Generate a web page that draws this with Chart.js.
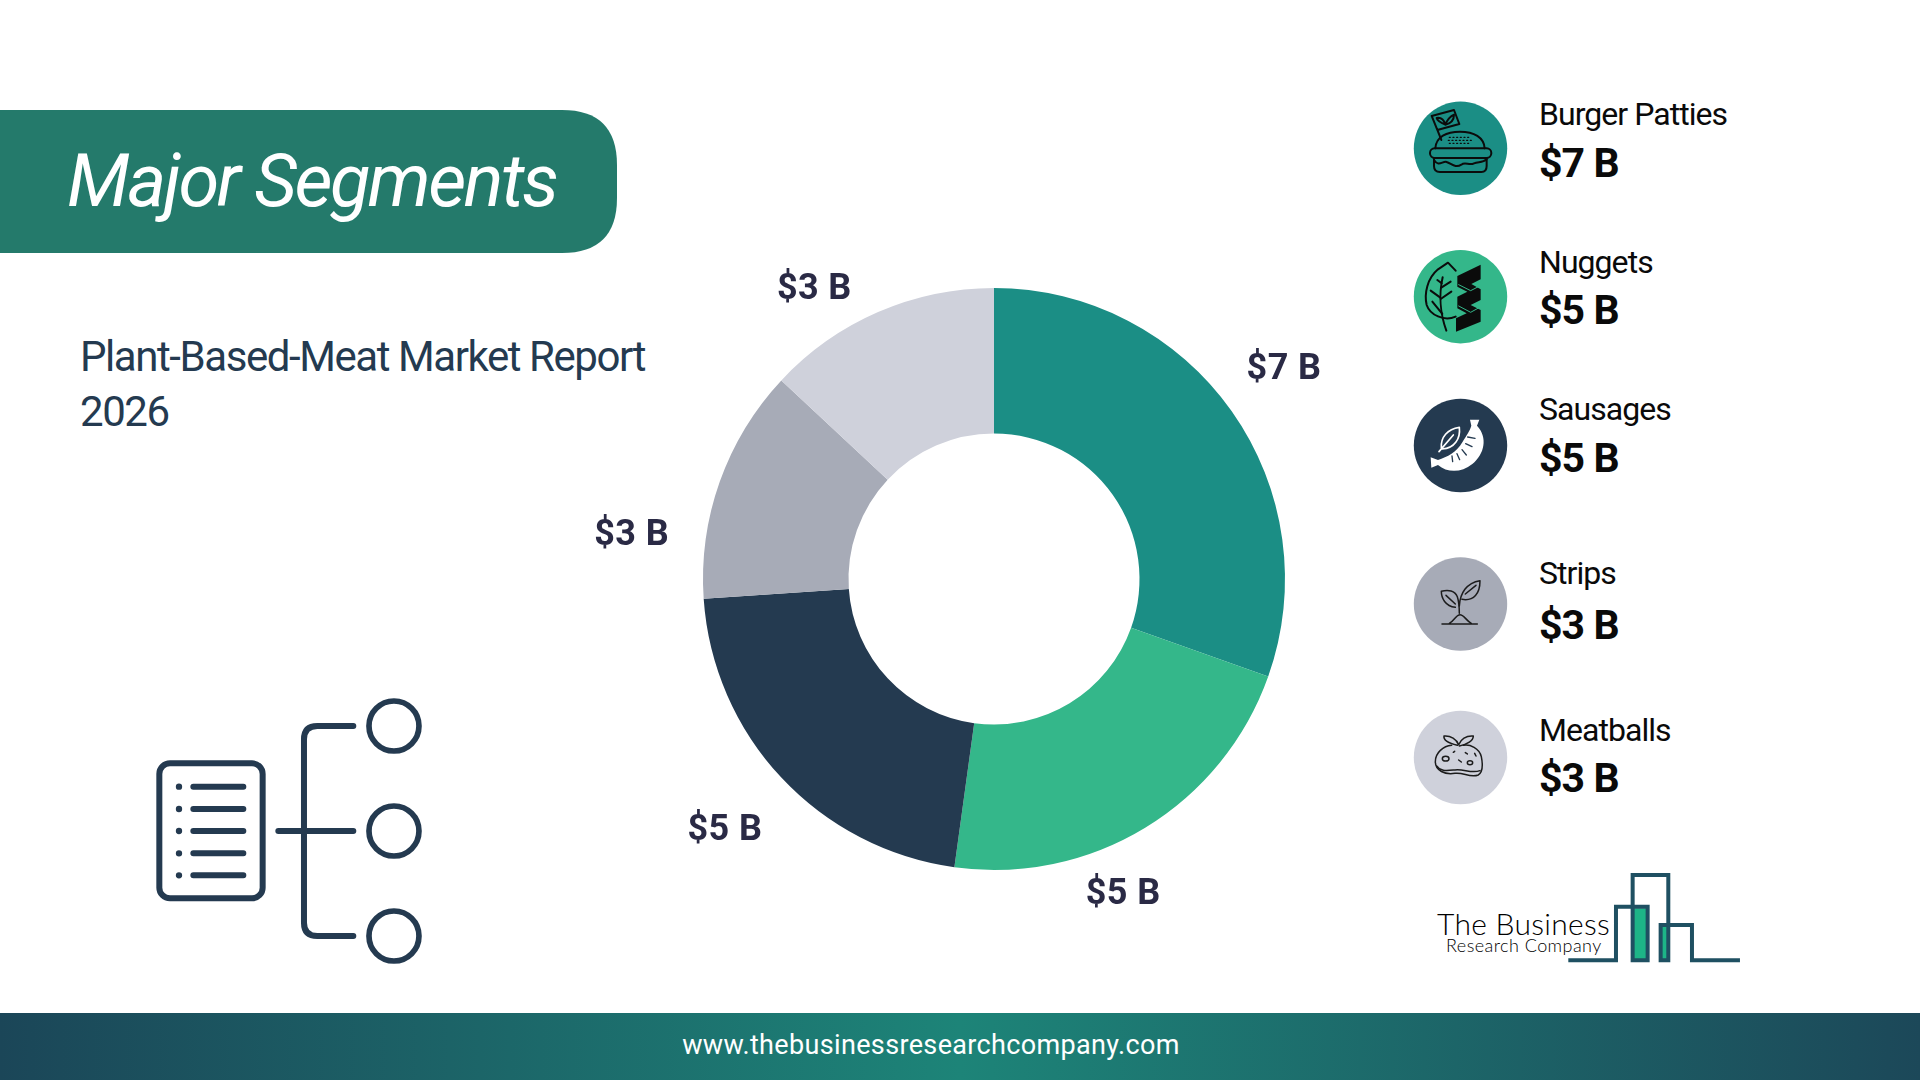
<!DOCTYPE html>
<html>
<head>
<meta charset="utf-8">
<script src="https://cdn.jsdelivr.net/npm/chart.js@4/dist/chart.umd.min.js"></script>
<style>
html,body{margin:0;padding:0;background:#fff;width:1920px;height:1080px;overflow:hidden;font-family:Roboto,sans-serif}
#chartBox{position:absolute;left:594px;top:179px;width:800px;height:800px}
#overlay{position:absolute;left:0;top:0;width:1920px;height:1080px;pointer-events:none}
</style>
</head>
<body>
<svg id="overlay" xmlns="http://www.w3.org/2000/svg" viewBox="0 0 1920 1080">
  <defs>
    <linearGradient id="foot" x1="0" x2="1" y1="0" y2="0">
      <stop offset="0" stop-color="#1B4658"/>
      <stop offset="0.5" stop-color="#1D8478"/>
      <stop offset="1" stop-color="#1C4859"/>
    </linearGradient>
  </defs>
  <path d="M0,110 H562 Q617,110 617,165 V198 Q617,253 562,253 H0 Z" fill="#247A6B"/>
  <text x="67" y="206" font-family="Roboto" font-style="italic" font-weight="400" font-size="74" letter-spacing="-2.5" fill="#fff">Major Segments</text>
  <text x="80" y="371" font-family="Roboto" font-weight="400" font-size="42" letter-spacing="-1.43" fill="#243A50">Plant-Based-Meat Market Report</text>
  <text x="80" y="426" font-family="Roboto" font-weight="400" font-size="42" letter-spacing="-1.43" fill="#243A50">2026</text>

  <g transform="translate(130,680) scale(0.3333)" fill="none" stroke="#243A50" stroke-linecap="round">
    <rect x="88" y="250" width="310" height="405" rx="32" stroke-width="18"/>
    <path d="M190,320H340M190,387H340M190,453H340M190,520H340M190,586H340" stroke-width="18"/>
    <path d="M147,320h.01M147,387h.01M147,453h.01M147,520h.01M147,586h.01" stroke-width="19"/>
    <path d="M445,453H670M670,138H562Q522,138 522,178V728Q522,768 562,768H670" stroke-width="18"/>
    <circle cx="792" cy="138" r="75" stroke-width="17"/>
    <circle cx="792" cy="453" r="75" stroke-width="17"/>
    <circle cx="792" cy="768" r="75" stroke-width="17"/>
  </g>

  <g id="legendRows"></g>

  <g transform="translate(1380,530) scale(0.3333)">
    <path d="M758,1135H803V1291H758ZM842,1190H865V1291H842Z" fill="#1DB587"/>
    <path d="M565,1291H708V1130H803V1291H758V1035H865V1291H842V1185H936V1291H1080" fill="none" stroke="#1F5062" stroke-width="12"/>
  </g>
  <text x="1437" y="935" font-family="Lato" font-weight="300" font-size="30" letter-spacing="0.3" fill="#000">The Business</text>
  <text x="1446" y="952" font-family="Lato" font-weight="300" font-size="18" letter-spacing="0.45" fill="#000">Research Company</text>

  <rect x="0" y="1013" width="1920" height="67" fill="url(#foot)"/>
  <text x="931" y="1054" text-anchor="middle" font-family="Roboto" font-size="27" letter-spacing="0.35" fill="#fff">www.thebusinessresearchcompany.com</text>
</svg>
<div id="chartBox"><canvas id="c" width="800" height="800"></canvas></div>

<script>
const categories = ["Burger Patties", "Nuggets", "Sausages", "Strips", "Meatballs"];
const seriesValues = [7, 5, 5, 3, 3];
const sliceColors = ["#1B8E85", "#34B78A", "#243A50", "#A7ABB7", "#CFD1DB"];
const valuePrefix = "$";
const valueSuffix = " B";

const fmt = v => valuePrefix + v + valueSuffix;

const iconMarkup = [
`<g fill="none" stroke="#0b0b0b" stroke-width="6" stroke-linejoin="round" stroke-linecap="round">
    <path d="M155,108L222,90L238,132L172,150ZM172,150L184,180"/>
    <path d="M196,134C182,128 172,122 170,114C182,112 192,120 196,134C202,120 208,110 222,104C222,120 212,130 196,134"/>
    <path d="M166,205C168,170 200,155 240,155C282,155 312,172 314,205"/>
    <rect x="150" y="205" width="184" height="29" rx="14"/>
    <path d="M162,234V258Q162,276 180,276H304Q320,276 320,258V234"/>
    <path d="M162,240C176,262 188,242 200,246C214,250 226,266 244,254C256,244 268,258 282,250C294,244 308,250 320,238"/>
    <path d="M208,172h64M205,181h70M208,190h64" stroke-width="4" stroke-dasharray="3 8"/>
  </g>`,
`<g fill="none" stroke="#0b0b0b" stroke-width="6" stroke-linecap="round" stroke-linejoin="round">
    <path d="M72,58L102,38L125,62M72,58C40,85 30,130 38,165C48,195 90,215 125,200"/>
    <path d="M86,82C75,130 78,190 97,242"/>
    <path d="M83,100L70,90M83,112L110,95M78,142L50,122M80,147L112,125M85,192L55,155"/>
    <path fill="#0b0b0b" stroke="none" d="M130,78L200,44V88L172,102L200,118V150L170,165L200,180V215L126,245V205L158,190L130,175V140L160,125L130,110Z"/>
    <path stroke="#34B78A" stroke-width="3" d="M134,104L170,122L197,108M134,168L170,187L197,172"/>
  </g>`,
`<path fill="#fff" d="M172,80L168,62L196,62L189,80C222,115 212,165 175,195C142,222 100,222 72,198L52,206L50,175L72,183C100,174 128,160 145,130C158,108 168,95 172,80Z"/>
    <path fill="none" stroke="#fff" stroke-width="5" stroke-linecap="round" stroke-linejoin="round" d="M82,146C80,115 100,90 136,85C140,118 122,148 85,150ZM75,158L118,108"/>
    <path fill="none" stroke="#243A50" stroke-width="4" stroke-linecap="round" d="M161,114L183,118M155,134L174,143M144,152L157,168M129,164L137,182M114,171L116,188"/>`,
`<g fill="none" stroke="#1c1c1c" stroke-width="4.5" stroke-linecap="round" stroke-linejoin="round">
    <path d="M186,282H292M208,280C225,270 228,254 240,254C252,254 256,270 274,280"/>
    <path d="M238,250C238,228 236,212 232,200C225,182 205,178 184,184C184,205 196,228 226,232"/>
    <path d="M238,228C240,190 260,158 300,152C300,190 282,214 246,208"/>
    <path d="M198,196L226,222M288,166L256,192"/>
  </g>`,
`<g fill="none" stroke="#1c1c1c" stroke-width="4.5" stroke-linecap="round" stroke-linejoin="round">
    <path d="M232,646C205,640 190,630 192,618C212,616 230,628 236,644C242,628 258,616 280,618C280,632 262,644 238,648"/>
    <path d="M215,646C190,648 166,668 166,695C166,722 195,735 225,730C250,726 270,745 295,735C310,725 308,700 304,680C298,655 270,642 250,646"/>
    <path d="M170,708C180,725 200,722 225,720C250,716 275,732 300,722"/>
    <ellipse cx="197" cy="686" rx="10" ry="7"/>
    <ellipse cx="270" cy="698" rx="8" ry="6"/>
    <path d="M236,690l8,6M256,668l6,4M224,664l-4,3M284,670l4,8"/>
  </g>`
];

/* Legend rows, built from the arrays */
const rowCenters = [148.3, 296.7, 445.5, 604, 757.5];
const nameBase = [125, 273, 420, 584, 741];
const valueBase = [177, 324, 472, 639, 792];
const iconOrigins = [[1380,80],[1414,250],[1414,399],[1380,530],[1380,530]];
const SVGNS = "http://www.w3.org/2000/svg";
const rows = document.getElementById("legendRows");
categories.forEach((name, i) => {
  const circle = document.createElementNS(SVGNS, "circle");
  circle.setAttribute("cx", 1460.5);
  circle.setAttribute("cy", rowCenters[i]);
  circle.setAttribute("r", 46.7);
  circle.setAttribute("fill", sliceColors[i]);
  rows.appendChild(circle);
  const g = document.createElementNS(SVGNS, "g");
  g.setAttribute("transform", `translate(${iconOrigins[i][0]},${iconOrigins[i][1]}) scale(0.3333)`);
  g.innerHTML = iconMarkup[i];
  rows.appendChild(g);
  const t1 = document.createElementNS(SVGNS, "text");
  t1.setAttribute("x", 1539);
  t1.setAttribute("y", nameBase[i]);
  t1.setAttribute("font-family", "Roboto");
  t1.setAttribute("font-size", 32);
  t1.setAttribute("letter-spacing", "-0.95");
  t1.setAttribute("fill", "#0a0a0a");
  t1.textContent = name;
  rows.appendChild(t1);
  const t2 = document.createElementNS(SVGNS, "text");
  t2.setAttribute("x", 1539);
  t2.setAttribute("y", valueBase[i]);
  t2.setAttribute("font-family", "Roboto");
  t2.setAttribute("font-weight", "700");
  t2.setAttribute("font-size", 41);
  t2.setAttribute("letter-spacing", "-0.9");
  t2.setAttribute("fill", "#0a0a0a");
  t2.textContent = fmt(seriesValues[i]);
  rows.appendChild(t2);
});

/* Outside labels: polar placement (deg clockwise from top, px from centre) */
const labelAngle = [54.1, 157.7, 227, 277, 328.2];
const labelRadius = [358, 340.2, 368, 365, 341];

const outsideLabels = {
  id: "outsideLabels",
  afterDatasetsDraw(chart) {
    const ctx = chart.ctx;
    const arcs = chart.getDatasetMeta(0).data;
    ctx.save();
    ctx.font = "700 36px Roboto";
    ctx.fillStyle = "#2A2A45";
    ctx.textAlign = "center";
    ctx.textBaseline = "middle";
    if ("letterSpacing" in ctx) ctx.letterSpacing = "0.4px";
    arcs.forEach((arc, i) => {
      const a = labelAngle[i] * Math.PI / 180;
      ctx.fillText(fmt(seriesValues[i]),
        arc.x + Math.sin(a) * labelRadius[i],
        arc.y - Math.cos(a) * labelRadius[i] + 1);
    });
    ctx.restore();
  }
};

new Chart(document.getElementById("c"), {
  type: "doughnut",
  data: {
    labels: categories,
    datasets: [{
      data: seriesValues,
      backgroundColor: sliceColors,
      borderWidth: 0,
      radius: 291
    }]
  },
  options: {
    responsive: false,
    animation: false,
    devicePixelRatio: 1,
    cutout: "50%",
    plugins: { legend: { display: false }, tooltip: { enabled: false } }
  },
  plugins: [outsideLabels]
});
</script>
</body>
</html>
